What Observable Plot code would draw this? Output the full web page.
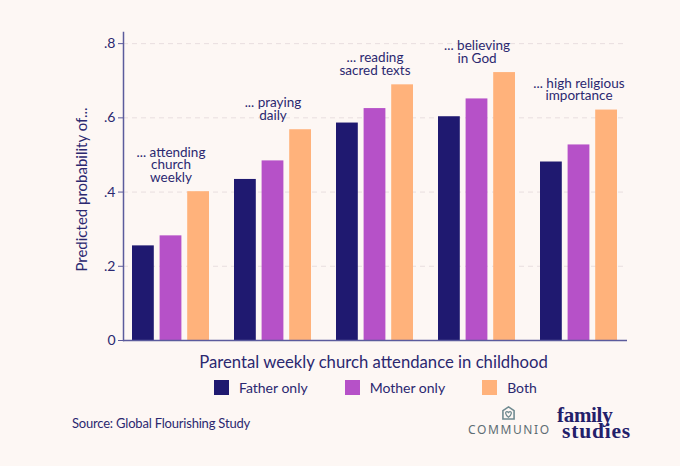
<!DOCTYPE html>
<html>
<head>
<meta charset="utf-8">
<script src="https://cdn.jsdelivr.net/npm/d3@7"></script>
<script src="https://cdn.jsdelivr.net/npm/@observablehq/plot@0.6"></script>
<style>
  html, body { margin: 0; padding: 0; background: #fdf7f4; }
  #wrap { position: relative; width: 680px; height: 466px; background: #fdf7f4; font-family: Lato, "Noto Sans", sans-serif; color: #2b2870; overflow: hidden; }
  #chart { position: absolute; left: 0; top: 0; }
  #legend { position: absolute; top: 380px; left: 214px; display: flex; align-items: center; font-size: 14px; line-height: 15px; }
  .item { display: flex; align-items: center; margin-right: 37px; }
  .item:last-child { margin-right: 0; }
  .sw { width: 15px; height: 15px; margin-right: 10px; }
  #source { position: absolute; left: 72px; top: 415px; font-size: 13px; letter-spacing: -0.2px; }
  #communio { position: absolute; left: 468px; top: 406px; width: 80px; text-align: center; color: #5d6d73; font-size: 12px; letter-spacing: 1.6px; font-family: "Noto Sans", Lato, sans-serif; line-height: 14px; }
  #communio svg { display: block; margin: 0 auto 3px auto; }
  #fs { position: absolute; left: 557px; top: 407px; font-family: "Liberation Serif", "DejaVu Serif", serif; font-weight: bold; font-size: 21px; line-height: 16px; color: #23206a; letter-spacing: -0.3px; }
  #fs .l2 { margin-left: 5px; letter-spacing: 0.8px; font-size: 21.5px; }
</style>
</head>
<body>
<div id="wrap">
  <div id="chart"></div>
  <div id="legend"></div>
  <div id="source">Source: Global Flourishing Study</div>
  <div id="communio">
    <svg width="13" height="14" viewBox="0 0 14 15">
      <path d="M7 1 L13 5 L13 14 L1 14 L1 5 Z" fill="none" stroke="#6f8a90" stroke-width="1.7"/>
      <path d="M7 12 C3 9 3.5 6 5.3 6 C6.3 6 7 7 7 7 C7 7 7.7 6 8.7 6 C10.5 6 11 9 7 12 Z" fill="none" stroke="#6f8a90" stroke-width="1.3"/>
    </svg>
    COMMUNIO
  </div>
  <div id="fs"><div>family</div><div class="l2">studies</div></div>
</div>
<script>
// ---- data ----
const groups = ["attending church weekly", "praying daily", "reading sacred texts", "believing in God", "high religious importance"];
const groupLabels = ["... attending\nchurch\nweekly", "... praying\ndaily", "... reading\nsacred texts", "... believing\nin God", "... high religious\nimportance"];
const series = ["Father only", "Mother only", "Both"];
const fatherOnly = [0.255, 0.434, 0.586, 0.603, 0.481];
const motherOnly = [0.282, 0.484, 0.625, 0.651, 0.527];
const both       = [0.401, 0.568, 0.689, 0.722, 0.621];
const yTicks = [0, 0.2, 0.4, 0.6, 0.8];
const yTickLabels = ["0", ".2", ".4", ".6", ".8"];
const colors = ["#1f1970", "#b651c8", "#ffb27b"];

const values = [fatherOnly, motherOnly, both];
const rows = [];
series.forEach((s, si) => groups.forEach((g, gi) => rows.push({group: g, series: s, value: values[si][gi]})));
const labelRows = groups.map((g, gi) => ({group: g, label: groupLabels[gi], top: Math.max(fatherOnly[gi], motherOnly[gi], both[gi])}));

const navy = "#2b2870";
const axisColor = "#5b5b9c";
const step = 27.6;

const barMarks = series.map((s, si) => Plot.barY(rows.filter(r => r.series === s), {
  x: "group", y: "value", fill: "series",
  insetLeft: si * step, insetRight: (2 - si) * step
}));

const chart = Plot.plot({
  width: 680,
  height: 372,
  marginLeft: 123,
  marginRight: 53,
  marginTop: 32,
  marginBottom: 32,
  style: {fontFamily: "Lato, 'Noto Sans', sans-serif", fontSize: "14px", color: navy, background: "transparent"},
  x: {domain: groups, paddingInner: 0.244, paddingOuter: 0.083, axis: null},
  y: {domain: [0, 0.83], axis: null},
  color: {domain: series, range: colors},
  marks: [
    Plot.ruleY(yTicks.slice(1), {stroke: "#e8dedf", strokeWidth: 1, strokeDasharray: "5,4"}),
    ...barMarks,
    Plot.ruleY([0], {stroke: axisColor, strokeWidth: 1.5}),
    Plot.axisY({ticks: yTicks, tickFormat: d => yTickLabels[yTicks.indexOf(d)], tickSize: 5, tickPadding: 3, stroke: axisColor, fill: navy, fontSize: 14, label: null}),
    Plot.frame({anchor: "left", stroke: axisColor, strokeWidth: 1.5}),
    Plot.text(labelRows, {x: "group", y: "top", text: "label", lineAnchor: "bottom", dy: -10, fill: navy, fontSize: 13.5, lineHeight: 0.93}),
    Plot.text(["Predicted probability of..."], {frameAnchor: "left", rotate: -90, dx: -41.5, dy: 3, textAnchor: "middle", fill: navy, fontSize: 15}),
    Plot.text(["Parental weekly church attendance in childhood"], {frameAnchor: "bottom", dy: 21.7, dx: -2, lineAnchor: "middle", textAnchor: "middle", fill: navy, fontSize: 16.7})
  ]
});
document.getElementById("chart").appendChild(chart);

const legend = document.getElementById("legend");
series.forEach((s, i) => {
  const it = document.createElement("div");
  it.className = "item";
  it.innerHTML = `<div class="sw" style="background:${colors[i]}"></div><span>${s}</span>`;
  legend.appendChild(it);
});
</script>
</body>
</html>
